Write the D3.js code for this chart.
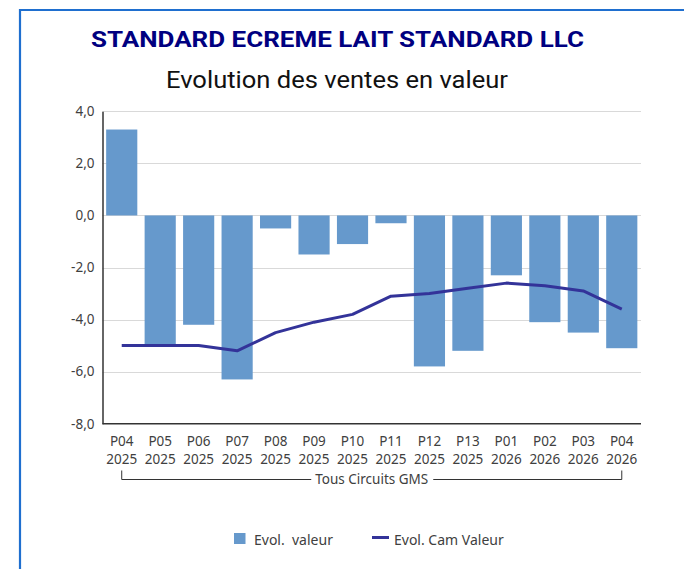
<!DOCTYPE html>
<html><head><meta charset="utf-8">
<script src="https://cdn.jsdelivr.net/npm/d3@7"></script>
<style>body{margin:0;background:#fff}svg{display:block}</style>
</head><body><svg id="c" width="684" height="569"></svg>
<script>
const periods = ["P04","P05","P06","P07","P08","P09","P10","P11","P12","P13","P01","P02","P03","P04"];
const years = ["2025","2025","2025","2025","2025","2025","2025","2025","2025","2025","2026","2026","2026","2026"];
const evolValeur = [3.3,-5.0,-4.2,-6.3,-0.5,-1.5,-1.1,-0.3,-5.8,-5.2,-2.3,-4.1,-4.5,-5.1];
const evolCamValeur = [-5.0,-5.0,-5.0,-5.2,-4.5,-4.1,-3.8,-3.1,-3.0,-2.8,-2.6,-2.7,-2.9,-3.6];
const yTicks = [4,2,0,-2,-4,-6,-8];
const groupLabel = "Tous Circuits GMS";
const title = "STANDARD ECREME LAIT STANDARD LLC";
const subtitle = "Evolution des ventes en valeur";
const legendLabels = ["Evol.  valeur","Evol. Cam Valeur"];

const svg = d3.select("#c");
const font = "'Noto Sans','Open Sans',sans-serif";
const lab = "#404040";

// frame
svg.append("path").attr("d","M20,569 L20,10 L684,10").attr("fill","none").attr("stroke","#1f6fcf").attr("stroke-width",2.2);

svg.append("text").attr("x",337.5).attr("y",47).attr("text-anchor","middle")
  .attr("font-family","Roboto,sans-serif").attr("font-weight","bold").attr("font-size",21.5)
  .attr("fill","#000080").attr("textLength",493).attr("lengthAdjust","spacingAndGlyphs").text(title);
svg.append("text").attr("x",337).attr("y",88).attr("text-anchor","middle")
  .attr("font-family","Roboto,sans-serif").attr("font-size",23)
  .attr("fill","#111").attr("textLength",342).attr("lengthAdjust","spacingAndGlyphs").text(subtitle);

const x0 = 102.5, x1 = 641;
const idx = d3.range(periods.length);
const x = d3.scaleBand().domain(idx).range([x0,x1]).paddingInner(0.19).paddingOuter(0.095);
const y = d3.scaleLinear().domain([-8,4]).range([423.7,111.3]);

// grid
svg.append("g").selectAll("line").data(yTicks.filter(t=>t>-8)).join("line")
  .attr("x1",x0).attr("x2",x1).attr("y1",d=>Math.round(y(d))+0.5).attr("y2",d=>Math.round(y(d))+0.5)
  .attr("stroke","#d9d9d9").attr("stroke-width",1);

// bars
svg.append("g").selectAll("rect").data(evolValeur).join("rect")
  .attr("x",(d,i)=>x(i)).attr("width",x.bandwidth())
  .attr("y",d=>y(Math.max(0,d))).attr("height",d=>Math.abs(y(d)-y(0)))
  .attr("fill","#6699cc");

// line
const line = d3.line().x((d,i)=>x(i)+x.bandwidth()/2).y(d=>y(d));
svg.append("path").datum(evolCamValeur).attr("d",line).attr("fill","none")
  .attr("stroke","#333399").attr("stroke-width",3).attr("stroke-linejoin","round");

// axes
const yAxis = d3.axisLeft(y).tickValues(yTicks).tickSize(0).tickPadding(8).tickFormat(d=>d3.format(".1f")(d).replace(".",",").replace("−","-"));
const gy = svg.append("g").attr("transform",`translate(${x0},0)`).call(yAxis);
gy.select(".domain").attr("stroke","#333").attr("stroke-width",1.5);
gy.selectAll("text").attr("font-family",font).attr("font-size",13.5).attr("fill",lab);
gy.selectAll(".tick line").remove();

svg.append("line").attr("x1",x0).attr("x2",x1).attr("y1",y(-8)).attr("y2",y(-8)).attr("stroke","#333").attr("stroke-width",1.5);

// category labels
const cat = svg.append("g");
cat.selectAll("text.p").data(periods).join("text").attr("class","p")
  .attr("x",(d,i)=>x(i)+x.bandwidth()/2).attr("y",446).attr("text-anchor","middle")
  .attr("font-family",font).attr("font-size",13.5).attr("fill",lab).text(d=>d);
cat.selectAll("text.y").data(years).join("text").attr("class","y")
  .attr("x",(d,i)=>x(i)+x.bandwidth()/2).attr("y",464).attr("text-anchor","middle")
  .attr("font-family",font).attr("font-size",13.5).attr("fill",lab).text(d=>d);

// group bracket
const gx1 = x(0)+x.bandwidth()/2, gx2 = x(periods.length-1)+x.bandwidth()/2, gyb = 479.5, gmid=(gx1+gx2)/2;
const gt = svg.append("text").attr("x",gmid).attr("y",484).attr("text-anchor","middle")
  .attr("font-family",font).attr("font-size",13.5).attr("fill",lab).text(groupLabel);
const tw = gt.node().getComputedTextLength();
svg.append("path").attr("d",`M${gx1},${gyb-9} V${gyb} H${gmid-tw/2-4} M${gmid+tw/2+5},${gyb} H${gx2} V${gyb-9}`)
  .attr("fill","none").attr("stroke","#333").attr("stroke-width",1);

// legend
svg.append("rect").attr("x",234).attr("y",533).attr("width",11.5).attr("height",11).attr("fill","#6699cc");
svg.append("text").attr("x",254).attr("y",545).attr("font-family",font).attr("font-size",14).attr("fill",lab).attr("xml:space","preserve").text(legendLabels[0]);
svg.append("line").attr("x1",372).attr("x2",389).attr("y1",537.5).attr("y2",537.5).attr("stroke","#333399").attr("stroke-width",3);
svg.append("text").attr("x",394).attr("y",545).attr("font-family",font).attr("font-size",14).attr("fill",lab).text(legendLabels[1]);
</script></body></html>
